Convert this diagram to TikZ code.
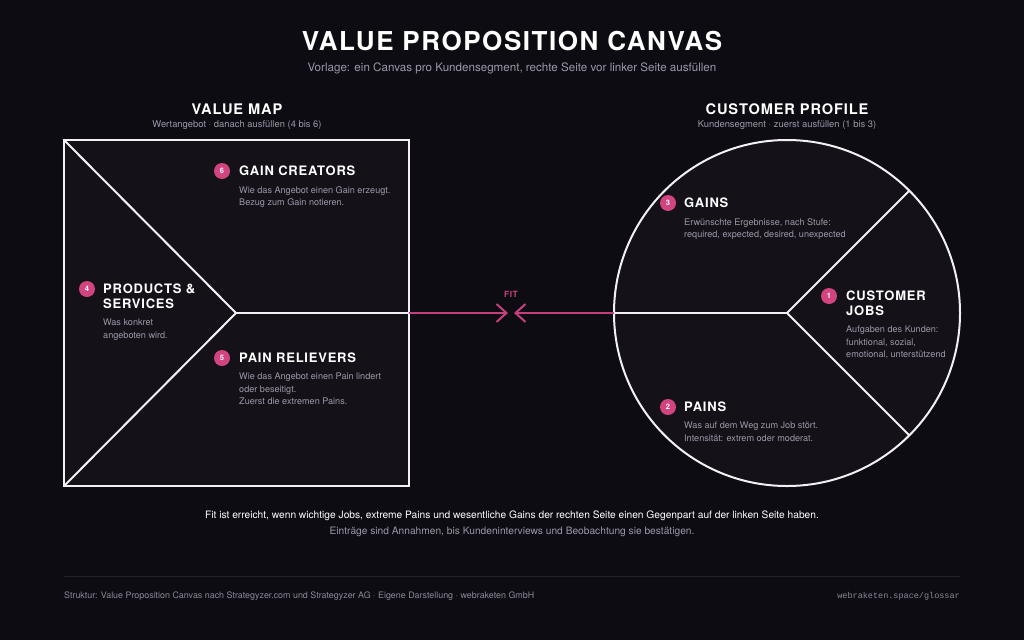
\documentclass[tikz,border=0pt]{standalone}
\usepackage{fontspec}
\setmainfont{TeX Gyre Heros}
\setmonofont{Liberation Mono}
\newfontfamily\headfont[LetterSpace=6]{TeX Gyre Heros}
\usetikzlibrary{arrows.meta,positioning,calc}

\definecolor{canvasbg}{HTML}{0E0C13}
\definecolor{panelbg}{HTML}{141119}
\definecolor{linewhite}{HTML}{F2F0F5}
\definecolor{fitpink}{HTML}{C4407C}
\definecolor{badgepink}{HTML}{D1447F}
\definecolor{mutedtext}{HTML}{9C98A8}
\definecolor{footertext}{HTML}{8C8898}
\definecolor{footerrule}{HTML}{24212B}

\tikzset{
    canvasline/.style={draw=linewhite, line width=2pt},
    fitline/.style={draw=fitpink, line width=2pt, -{Straight Barb[length=10pt,width=18pt,line width=2pt]}},
    badge/.style={circle, fill=badgepink, minimum size=16pt, inner sep=0pt, text=white, font=\headfont\bfseries\fontsize{7.5}{7.5}\selectfont},
    blockhead/.style={anchor=west, inner sep=0pt, text=white, align=left, font=\headfont\bfseries\fontsize{13}{15}\selectfont},
    blocktext/.style={anchor=north west, inner sep=0pt, text=mutedtext, align=left, font=\fontsize{9.1}{12.4}\selectfont},
    sectionhead/.style={inner sep=0pt, text=white, font=\headfont\bfseries\fontsize{14.6}{14.6}\selectfont},
    sectionsub/.style={inner sep=0pt, text=mutedtext, font=\fontsize{9.4}{9.4}\selectfont},
}

\begin{document}
\begin{tikzpicture}[x=1pt,y=-1pt]
        % Background
        \fill[canvasbg] (0,0) rectangle (1024,640);
        \useasboundingbox (0,0) rectangle (1024,640);

        %%%% Title =====================================
        \node[text=white, font=\headfont\bfseries\fontsize{26}{26}\selectfont] (title) at (512,41) {VALUE PROPOSITION CANVAS};
        \node[text=mutedtext, font=\fontsize{11.6}{11.6}\selectfont] (subtitle) at (512,68) {Vorlage: ein Canvas pro Kundensegment, rechte Seite vor linker Seite ausfüllen};

        %%%% Value map =================================
        \begin{scope}
            % Corners
            \coordinate (vmNW) at (64,140);
            \coordinate (vmNE) at (409,140);
            \coordinate (vmSE) at (409,486);
            \coordinate (vmSW) at (64,486);
            \coordinate (vmC) at (236,313);
            \coordinate (vmE) at (409,313);

            % Frame and dividers
            \draw[canvasline, fill=panelbg] (vmNW) rectangle (vmSE);
            \draw[canvasline] (vmNW) -- (vmC) -- (vmSW);
            \draw[canvasline] (vmC) -- (vmE);

            % Heading
            \node[sectionhead] (vmhead) at (237,109) {VALUE MAP};
            \node[sectionsub] (vmsub) at (237,125) {Wertangebot · danach ausfüllen (4 bis 6)};

            % Gain creators
            \node[badge] (b6) at (222,171) {6};
            \node[blockhead] (gc) at (239,171) {GAIN CREATORS};
            \node[blocktext] (gctext) at (239,186) {Wie das Angebot einen Gain erzeugt.\\Bezug zum Gain notieren.};

            % Products & services
            \node[badge] (b4) at (87,289) {4};
            \node[blockhead, anchor=north west] (ps) at (103,284) {PRODUCTS \&\\SERVICES};
            \node[blocktext] (pstext) at (103,319) {Was konkret\\angeboten wird.};

            % Pain relievers
            \node[badge] (b5) at (222,358) {5};
            \node[blockhead] (pr) at (239,358) {PAIN RELIEVERS};
            \node[blocktext] (prtext) at (239,373) {Wie das Angebot einen Pain lindert\\oder beseitigt.\\Zuerst die extremen Pains.};
        \end{scope}

        %%%% Customer profile ==========================
        \begin{scope}
            % Circle points
            \coordinate (cpC) at (787,313);
            \coordinate (cpW) at (614,313);
            \coordinate (cpNE) at (909,191);
            \coordinate (cpSE) at (909,435);

            % Circle and dividers
            \draw[canvasline, fill=panelbg] (cpC) circle[radius=173];
            \draw[canvasline] (cpNE) -- (cpC) -- (cpSE);
            \draw[canvasline] (cpW) -- (cpC);

            % Heading
            \node[sectionhead] (cphead) at (787,109) {CUSTOMER PROFILE};
            \node[sectionsub] (cpsub) at (787,125) {Kundensegment · zuerst ausfüllen (1 bis 3)};

            % Gains
            \node[badge] (b3) at (668,203) {3};
            \node[blockhead] (gains) at (684,203) {GAINS};
            \node[blocktext] (gainstext) at (684,218) {Erwünschte Ergebnisse, nach Stufe:\\required, expected, desired, unexpected};

            % Customer jobs
            \node[badge] (b1) at (829,296) {1};
            \node[blockhead, anchor=north west] (jobs) at (846,291) {CUSTOMER\\JOBS};
            \node[blocktext] (jobstext) at (846,326) {Aufgaben des Kunden:\\funktional, sozial,\\emotional, unterstützend};

            % Pains
            \node[badge] (b2) at (668,407) {2};
            \node[blockhead] (pains) at (684,407) {PAINS};
            \node[blocktext] (painstext) at (684,422) {Was auf dem Weg zum Job stört.\\Intensität: extrem oder moderat.};
        \end{scope}

        %%%% Fit =======================================
        \coordinate (fitL) at (508,313);
        \coordinate (fitR) at (514,313);
        \draw[fitline] (vmE) -- (fitL);
        \draw[fitline] (cpW) -- (fitR);
        \node[text=fitpink, font=\headfont\bfseries\fontsize{8.5}{8.5}\selectfont] (fitlabel) at (511,294) {FIT};

        %%%% Notes and footer ==========================
        \node[text=white, font=\fontsize{10.2}{10.2}\selectfont] (note) at (512,516) {Fit ist erreicht, wenn wichtige Jobs, extreme Pains und wesentliche Gains der rechten Seite einen Gegenpart auf der linken Seite haben.};
        \node[text=mutedtext, font=\fontsize{10.2}{10.2}\selectfont] (note2) at (512,532) {Einträge sind Annahmen, bis Kundeninterviews und Beobachtung sie bestätigen.};

        \coordinate (ruleL) at (64,576);
        \coordinate (ruleR) at (960,576);
        \draw[footerrule, line width=1pt] (ruleL) -- (ruleR);
        \node[anchor=west, inner sep=0pt, text=footertext, font=\fontsize{8.9}{8.9}\selectfont] (source) at (64,596) {Struktur: Value Proposition Canvas nach Strategyzer.com und Strategyzer AG · Eigene Darstellung · webraketen GmbH};
        \node[anchor=east, inner sep=0pt, text=footertext, font=\ttfamily\fontsize{8.5}{8.5}\selectfont] (url) at (960,596) {webraketen.space/glossar};
    \end{tikzpicture}
\end{document}
